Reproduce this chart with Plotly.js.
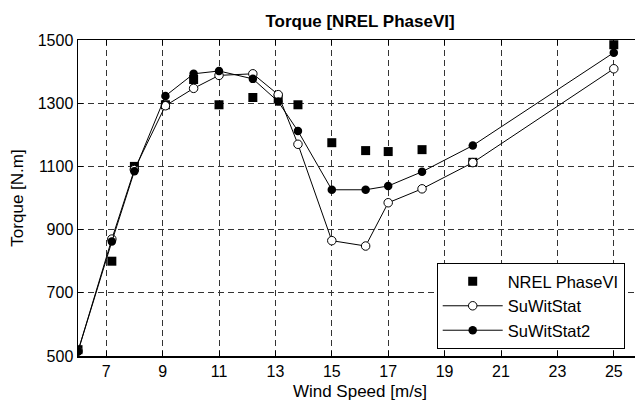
<!DOCTYPE html>
<html>
<head>
<meta charset="utf-8">
<script src="https://cdn.plot.ly/plotly-3.0.1.min.js"></script>
<style>
html,body{margin:0;padding:0;overflow:hidden;background:#fff;width:635px;height:403px;}
#chart{width:642px;height:403px;}
</style>
</head>
<body>
<div id="chart"></div>
<script>
const windSpeed = [6, 7.2, 8, 9.1, 10.1, 11, 12.2, 13.1, 13.8, 15, 16.2, 17, 18.2, 20, 25];
const nrelPhaseVI = [520, 800, 1100, 1295, 1375, 1295, 1318, 1315, 1295, 1175, 1150, 1147, 1153, 1113, 1485];
const suWitStat = [515, 870, 1090, 1292, 1347, 1388, 1393, 1327, 1170, 865, 848, 985, 1029, 1112, 1409];
const suWitStat2 = [515, 862, 1085, 1323, 1393, 1402, 1377, 1305, 1212, 1026, 1026, 1038, 1083, 1166, 1460];
const xTicks = [7, 9, 11, 13, 15, 17, 19, 21, 23, 25];
const yTicks = [500, 700, 900, 1100, 1300, 1500];

const fontFam = 'Liberation Sans, Arial, Helvetica, sans-serif';

const traces = [
  {x: windSpeed, y: nrelPhaseVI, name: 'NREL PhaseVI', mode: 'markers', type: 'scatter',
   marker: {symbol: 'square', size: 9, color: '#000'}},
  {x: windSpeed, y: suWitStat, name: 'SuWitStat', mode: 'lines+markers', type: 'scatter',
   line: {color: '#000', width: 1},
   marker: {symbol: 'circle', size: 8.5, color: '#fff', line: {width: 1, color: '#000'}}},
  {x: windSpeed, y: suWitStat2, name: 'SuWitStat2', mode: 'lines+markers', type: 'scatter',
   line: {color: '#000', width: 1},
   marker: {symbol: 'circle', size: 8.5, color: '#000'}}
];

const layout = {
  width: 642, height: 403,
  margin: {l: 78, r: 0, t: 40, b: 47},
  paper_bgcolor: '#fff', plot_bgcolor: '#fff',
  font: {family: fontFam, size: 16, color: '#000'},
  title: {text: '<b>Torque [NREL PhaseVI]</b>', font: {size: 17, family: fontFam, color: '#000'},
          x: 0.5, xref: 'paper', xanchor: 'center', y: 0.948, yref: 'container', yanchor: 'middle'},
  xaxis: {
    range: [6, 26], tickvals: xTicks, ticktext: xTicks.map(String),
    showgrid: true, gridcolor: '#333', gridwidth: 1, griddash: '6px,4px',
    zeroline: false, showline: true, linecolor: '#000', linewidth: 1.5, mirror: 'ticks',
    ticks: 'inside', ticklen: 5, tickcolor: '#000',
    tickfont: {size: 16},
    title: {text: 'Wind Speed [m/s]', font: {size: 17}, standoff: 6}
  },
  yaxis: {
    range: [500, 1500], tickvals: yTicks, ticktext: yTicks.map(String),
    showgrid: true, gridcolor: '#333', gridwidth: 1, griddash: '6px,4px',
    zeroline: false, showline: true, linecolor: '#000', linewidth: 1.5, mirror: 'ticks',
    ticks: 'inside', ticklen: 5, tickcolor: '#000',
    tickfont: {size: 16},
    title: {text: 'Torque [N.m]', font: {size: 17}, standoff: 10}
  },
  legend: {
    x: 0.636, y: 0.294, xanchor: 'left', yanchor: 'top',
    bgcolor: '#fff', bordercolor: '#000', borderwidth: 1,
    font: {size: 16.5}, tracegroupgap: 0, itemwidth: 60
  },
  showlegend: true
};

Plotly.newPlot('chart', traces, layout, {displayModeBar: false, staticPlot: true});
</script>
</body>
</html>
